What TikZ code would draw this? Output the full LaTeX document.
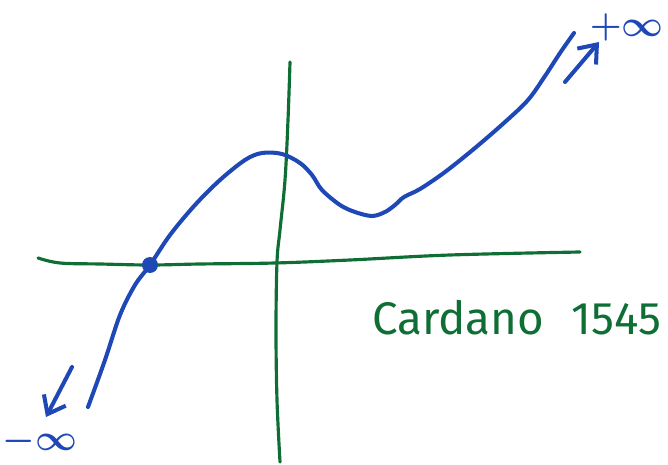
\documentclass[tikz,border=0pt]{standalone}
\usepackage{fontspec}
\setmainfont{Fira Sans}
\usetikzlibrary{arrows.meta}
\definecolor{penblue}{RGB}{30,72,182}
\definecolor{pengreen}{RGB}{14,110,52}
\tikzset{
  axis/.style = {draw=pengreen, line width=1.8pt, line cap=round, line join=round},
  graph/.style = {draw=penblue, line width=2.3pt, line cap=round, line join=round},
  arr/.style = {draw=penblue, line width=2.3pt, line cap=round, -{Straight Barb[length=9pt, width=14pt, line width=2.3pt]}},
  lbl/.style = {text=penblue, font=\fontsize{20}{22}\selectfont\boldmath, inner sep=0pt},
  note/.style = {text=pengreen, font=\fontsize{26}{28}\selectfont, inner sep=0pt}
}
\begin{document}
\begin{tikzpicture}[x=0.02cm, y=-0.02cm]
\useasboundingbox (0,0) rectangle (668,465);

% ----- AXES -----
\draw[axis] plot[smooth, tension=0.6] coordinates {(38,258) (60,263) (100,264) (150,265) (200,264) (275,263) (350,260) (450,255) (580,252)};
\draw[axis] plot[smooth, tension=0.6] coordinates {(290,62) (288,120) (285,180) (280,230) (277,262) (276,330) (277,400) (280,462)};

% ----- CUBIC -----
\draw[graph] plot[smooth, tension=0.55] coordinates {(88,407) (105,360) (120,315) (135,285) (150,265) (170,235) (195,205) (220,180) (245,160) (262,153) (282,154) (300,163) (312,175) (322,190) (340,205) (355,212) (372,216) (385,212) (395,205) (404,197) (420,189) (445,172) (475,148) (505,122) (528,100) (545,76) (560,53) (574,33)};
\fill[penblue] (150,265) circle (8);

% ----- ENDS -----
\coordinate (up0) at (565,82);
\coordinate (up1) at (599,42);
\coordinate (dn0) at (72,367);
\coordinate (dn1) at (46,417);
\draw[arr] (up0) -- (up1);
\draw[arr] (dn0) -- (dn1);

\node[lbl, anchor=east] (pinf) at (664,27) {$+\infty$};
\node[lbl] (minf) at (40,441) {$-\infty$};
\node[note, anchor=west] (cardano) at (372,318) {Cardano\hspace{0.55cm}1545};

\end{tikzpicture}
\end{document}
